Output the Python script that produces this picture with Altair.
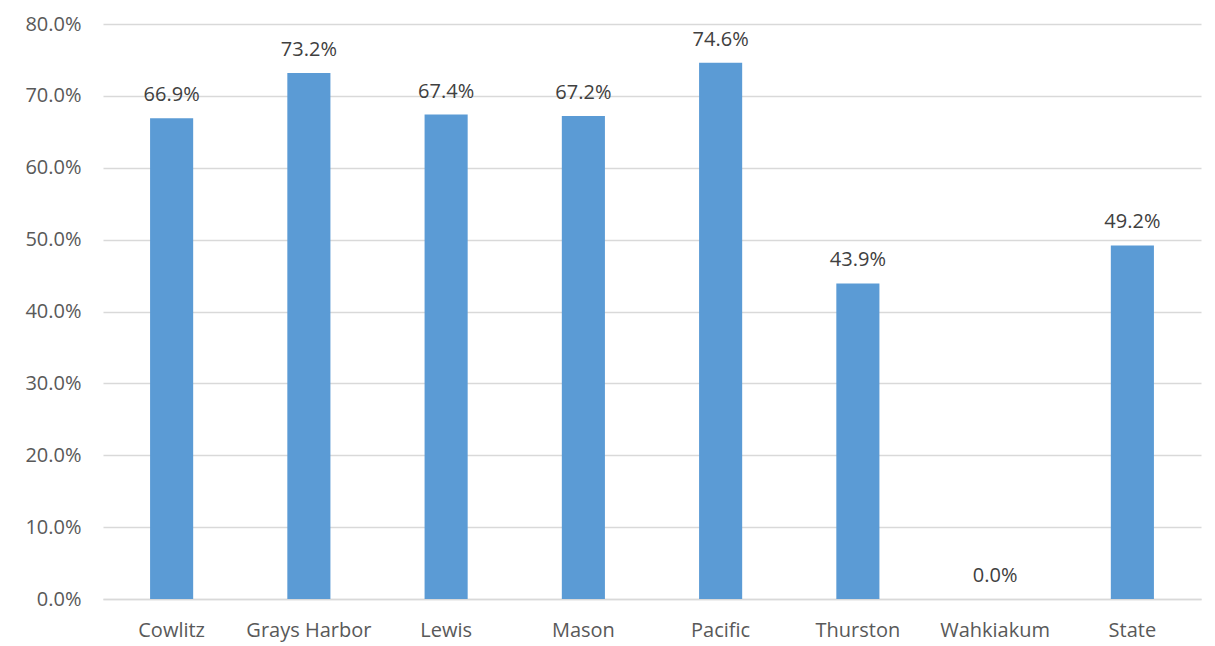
import altair as alt
import pandas as pd

categories = ["Cowlitz", "Grays Harbor", "Lewis", "Mason", "Pacific", "Thurston", "Wahkiakum", "State"]
values = [0.669, 0.732, 0.674, 0.672, 0.746, 0.439, 0.0, 0.492]

df = pd.DataFrame({"county": categories, "value": values})

FONT = "Open Sans"

base = alt.Chart(df).encode(
    x=alt.X("county:N", sort=categories, title=None,
            scale=alt.Scale(paddingInner=0.686, paddingOuter=0.343),
            axis=alt.Axis(labelAngle=0, labelFont=FONT, labelFontSize=20, labelColor="#595959",
                          ticks=False, domainColor="#d9d9d9", domainWidth=1.5, labelPadding=21)),
    y=alt.Y("value:Q", title=None,
            scale=alt.Scale(domain=[0, 0.8], nice=False),
            axis=alt.Axis(format=".1%", values=[i / 10 for i in range(9)], labelFont=FONT,
                          labelFontSize=20, labelColor="#595959", ticks=False, domain=False,
                          gridColor="#d9d9d9", gridWidth=1.5, labelPadding=22)),
)

bars = base.mark_bar(color="#5B9BD5")
labels = base.mark_text(baseline="bottom", dy=-13, font=FONT, fontSize=20, color="#404040").encode(
    text=alt.Text("value:Q", format=".1%")
)

chart = (bars + labels).properties(
    width=1098, height=575,
    autosize=alt.AutoSizeParams(type="none"),
    padding={"left": 95, "top": 16, "right": 5, "bottom": 46},
).configure_view(stroke=None)

chart.save("out.html", embed_options={"renderer": "svg", "actions": False})
